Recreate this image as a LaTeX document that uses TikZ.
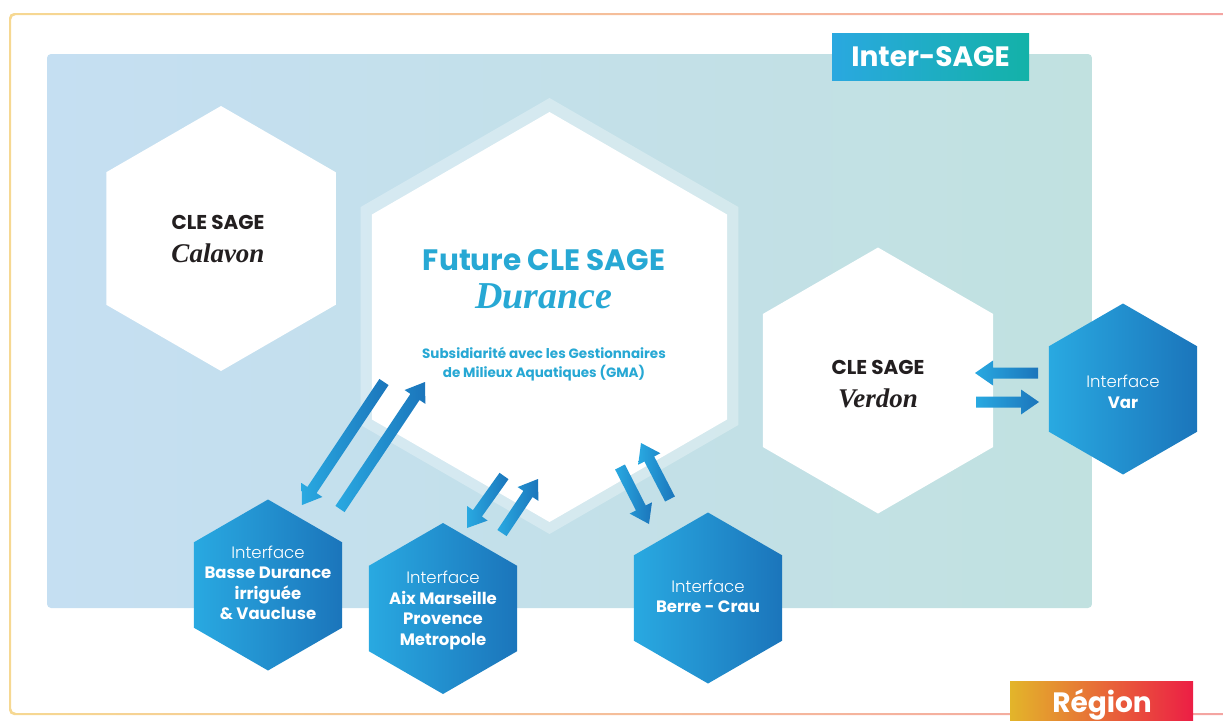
\documentclass[tikz,border=0pt]{standalone}
\usepackage{fontspec}
\setmainfont{Poppins}
\newfontfamily\brush{Liberation Serif}
\IfFontExistsTF{Poppins Light}{\newfontfamily\lightfont{Poppins Light}}{\newfontfamily\lightfont{Poppins}}
\usetikzlibrary{shapes.geometric,calc}
\definecolor{frL}{HTML}{F6D892}
\definecolor{frR}{HTML}{F4A3A3}
\definecolor{panelL}{HTML}{C5DFF2}
\definecolor{panelR}{HTML}{C1E1E0}
\definecolor{hexL}{HTML}{29A9E1}
\definecolor{hexR}{HTML}{1B75BB}
\definecolor{isL}{HTML}{2AA8E0}
\definecolor{isR}{HTML}{13B2A8}
\definecolor{rgL}{HTML}{E3B52A}
\definecolor{rgR}{HTML}{EC1E45}
\definecolor{ink}{HTML}{231F20}
\definecolor{cyan}{HTML}{27A8D4}
\begin{document}
\begin{tikzpicture}[x=1pt,y=-1pt,line join=round,
	hexa/.style={regular polygon,regular polygon sides=6,shape border rotate=30,inner sep=0pt,outer sep=0pt},
	hexw/.style={hexa,fill=white},
	hexb/.style={hexa,minimum size=171pt,left color=hexL,right color=hexR},
	title/.style={font=\bfseries\fontsize{20}{24}\selectfont,text=ink},
	river/.style={font=\brush\bfseries\itshape\fontsize{27}{30}\selectfont,text=ink},
	itf/.style={align=center,text=white,font=\fontsize{16.5}{20.5}\selectfont}]
	\useasboundingbox (0,0) rectangle (1223,720);
	\clip (0,0) rectangle (1223,720);
	\shade[left color=frL,right color=frR,even odd rule,rounded corners=5pt] (9,13) rectangle (1260,715) (11,15) rectangle (1258,713);
	\shade[left color=panelL,right color=panelR,rounded corners=4pt] (47,54) rectangle (1092,608);
	\node[hexw,minimum size=265pt] (calavon) at (221,238.5) {};
	\node[hexa,minimum size=436pt,fill=white,fill opacity=0.3] (halo) at (549.5,316) {};
	\node[hexw,minimum size=410pt] (durance) at (549.5,317) {};
	\node[hexw,minimum size=266pt] (verdon) at (878,380.5) {};
	\node[hexb] (var) at (1123,389) {};
	% fleches
	\coordinate (b1) at (384,382); \coordinate (b2) at (302,505);
	\coordinate (b3) at (340,509); \coordinate (b4) at (425,382);
	\coordinate (a1) at (504,476); \coordinate (a2) at (467,528);
	\coordinate (a3) at (502,533); \coordinate (a4) at (538,479);
	\coordinate (c1) at (620,467); \coordinate (c2) at (649,524);
	\coordinate (c3) at (670,499); \coordinate (c4) at (641,443);
	\coordinate (v1) at (1038,373); \coordinate (v2) at (975,373);
	\coordinate (v3) at (976,402); \coordinate (v4) at (1039,402);
	\foreach \s/\e in {b1/b2,b3/b4,a1/a2,a3/a4,c1/c2,c3/c4,v1/v2,v3/v4}{
		\coordinate (h) at ($(\e)!18pt!(\s)$);
		\shade[left color=hexL,right color=hexR] ($(\s)!5.5pt!90:(\e)$) -- ($(h)!5.5pt!90:(\e)$) -- ($(h)!12.5pt!90:(\e)$) -- (\e)
			-- ($(h)!12.5pt!-90:(\e)$) -- ($(h)!5.5pt!-90:(\e)$) -- ($(\s)!5.5pt!-90:(\e)$) -- cycle;
	}
	\node[hexb] (basse) at (268,585) {};
	\node[hexb] (aix) at (443,608.5) {};
	\node[hexb] (berre) at (708,598) {};
	\node[title] (calavon-t) at (218,222) {CLE SAGE};
	\node[river] (calavon-r) at (218,253) {Calavon};
	\node[title,text=cyan,font=\bfseries\fontsize{29.5}{30}\selectfont] (durance-t) at (544,260) {Future CLE SAGE};
	\node[river,text=cyan,font=\brush\bfseries\itshape\fontsize{38}{40}\selectfont] (durance-r) at (544,296) {Durance};
	\node[align=center,text=cyan,font=\bfseries\fontsize{13.5}{19}\selectfont] (durance-s) at (544,364.5) {Subsidiarité avec les Gestionnaires\\de Milieux Aquatiques (GMA)};
	\node[title] (verdon-t) at (878,367) {CLE SAGE};
	\node[river] (verdon-r) at (878,398) {Verdon};
	\node[itf] at ([yshift=-3pt]var) {{\lightfont Interface}\\\textbf{Var}};
	\node[itf] at ([yshift=2pt]basse) {{\lightfont Interface}\\\textbf{Basse Durance}\\\textbf{irriguée}\\\textbf{\& Vaucluse}};
	\node[itf] at ([yshift=-2pt]aix) {{\lightfont Interface}\\\textbf{Aix Marseille}\\\textbf{Provence}\\\textbf{Metropole}};
	\node[itf] at ([yshift=1.5pt]berre) {{\lightfont Interface}\\\textbf{Berre - Crau}};
	\shade[left color=isL,right color=isR] (832,33) rectangle (1029,80);
	\node[text=white,font=\bfseries\fontsize{28}{30}\selectfont] (inter) at (930.5,57) {Inter-SAGE};
	\shade[left color=rgL,right color=rgR] (1010,681) rectangle (1193,725);
	\node[text=white,font=\bfseries\fontsize{28}{30}\selectfont] (region) at (1102,705) {Région};
\end{tikzpicture}
\end{document}
